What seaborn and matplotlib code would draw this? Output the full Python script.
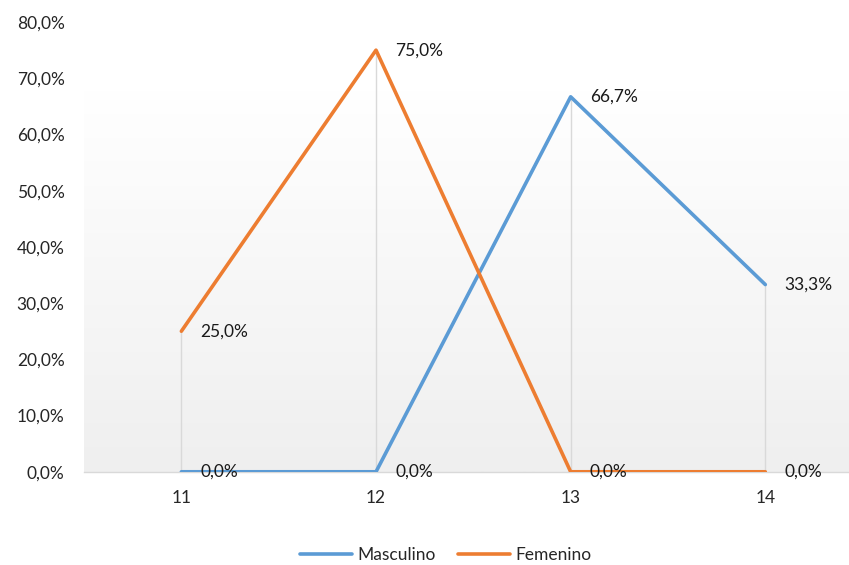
import numpy as np
import pandas as pd
import seaborn as sns
import matplotlib.pyplot as plt

# datos
edades = [11, 12, 13, 14]
masculino = [0.0, 0.0, 66.7, 33.3]
femenino = [25.0, 75.0, 0.0, 0.0]
series = ['Masculino', 'Femenino']
colores = ['#5B9BD5', '#ED7D31']
yticks = [0, 10, 20, 30, 40, 50, 60, 70, 80]

df = pd.DataFrame({
    'edad': edades * 2,
    'valor': masculino + femenino,
    'serie': ['Masculino'] * 4 + ['Femenino'] * 4,
})

sns.set_style('white')
plt.rcParams['font.family'] = ['Lato', 'DejaVu Sans']

fig = plt.figure(figsize=(8.49, 5.65), dpi=100)
ax = fig.add_axes([0.099, 0.165, 0.901, 0.796])

# fondo degradado: blanco arriba, gris claro abajo
grad = np.linspace(0, 1, 256).reshape(-1, 1)
cmap = plt.matplotlib.colors.LinearSegmentedColormap.from_list('g', ['#efefef', '#ffffff'])
ax.imshow(grad, aspect='auto', cmap=cmap, extent=[10.5, 14.43, 0, 80], origin='lower',
          zorder=0, vmin=0, vmax=0.85)

# lineas verticales hasta el maximo
maximos = [max(m, f) for m, f in zip(masculino, femenino)]
ax.vlines(edades, 0, maximos, color='#d9d9d9', lw=1, zorder=1)

sns.lineplot(data=df, x='edad', y='valor', hue='serie', hue_order=series,
             palette=colores, lw=2.6, ax=ax, zorder=3, legend=False)

# etiquetas de datos
for vals in [masculino, femenino]:
    for x, v in zip(edades, vals):
        ax.annotate(f'{v:.1f}%'.replace('.', ','), (x, v), xytext=(19, 0),
                    textcoords='offset pixels', va='center', ha='left',
                    fontsize=12.5, color='#1a1a1a', zorder=4)

ax.set_xlim(10.5, 14.43)
ax.set_ylim(0, 80)
ax.set_xticks(edades)
ax.set_xticklabels([str(e) for e in edades])
ax.set_yticks(yticks)
ax.set_yticklabels([f'{t:.1f}%'.replace('.', ',') for t in yticks])
ax.tick_params(axis='both', length=0, labelsize=12.5, colors='#262626')
ax.tick_params(axis='x', pad=13)
ax.tick_params(axis='y', pad=14)
ax.set_xlabel('')
ax.set_ylabel('')
for s in ['top', 'right', 'left']:
    ax.spines[s].set_visible(False)
ax.spines['bottom'].set_color('#d9d9d9')
ax.spines['bottom'].set_linewidth(1)

handles = [plt.Line2D([], [], color=c, lw=2.6) for c in colores]
fig.legend(handles, series, loc='center', bbox_to_anchor=(0.525, 0.018), ncol=2,
           frameon=False, fontsize=12.5, handlelength=3.0, handletextpad=0.3,
           columnspacing=1.3, labelcolor='#262626')

fig.savefig('out.png', dpi=100)
